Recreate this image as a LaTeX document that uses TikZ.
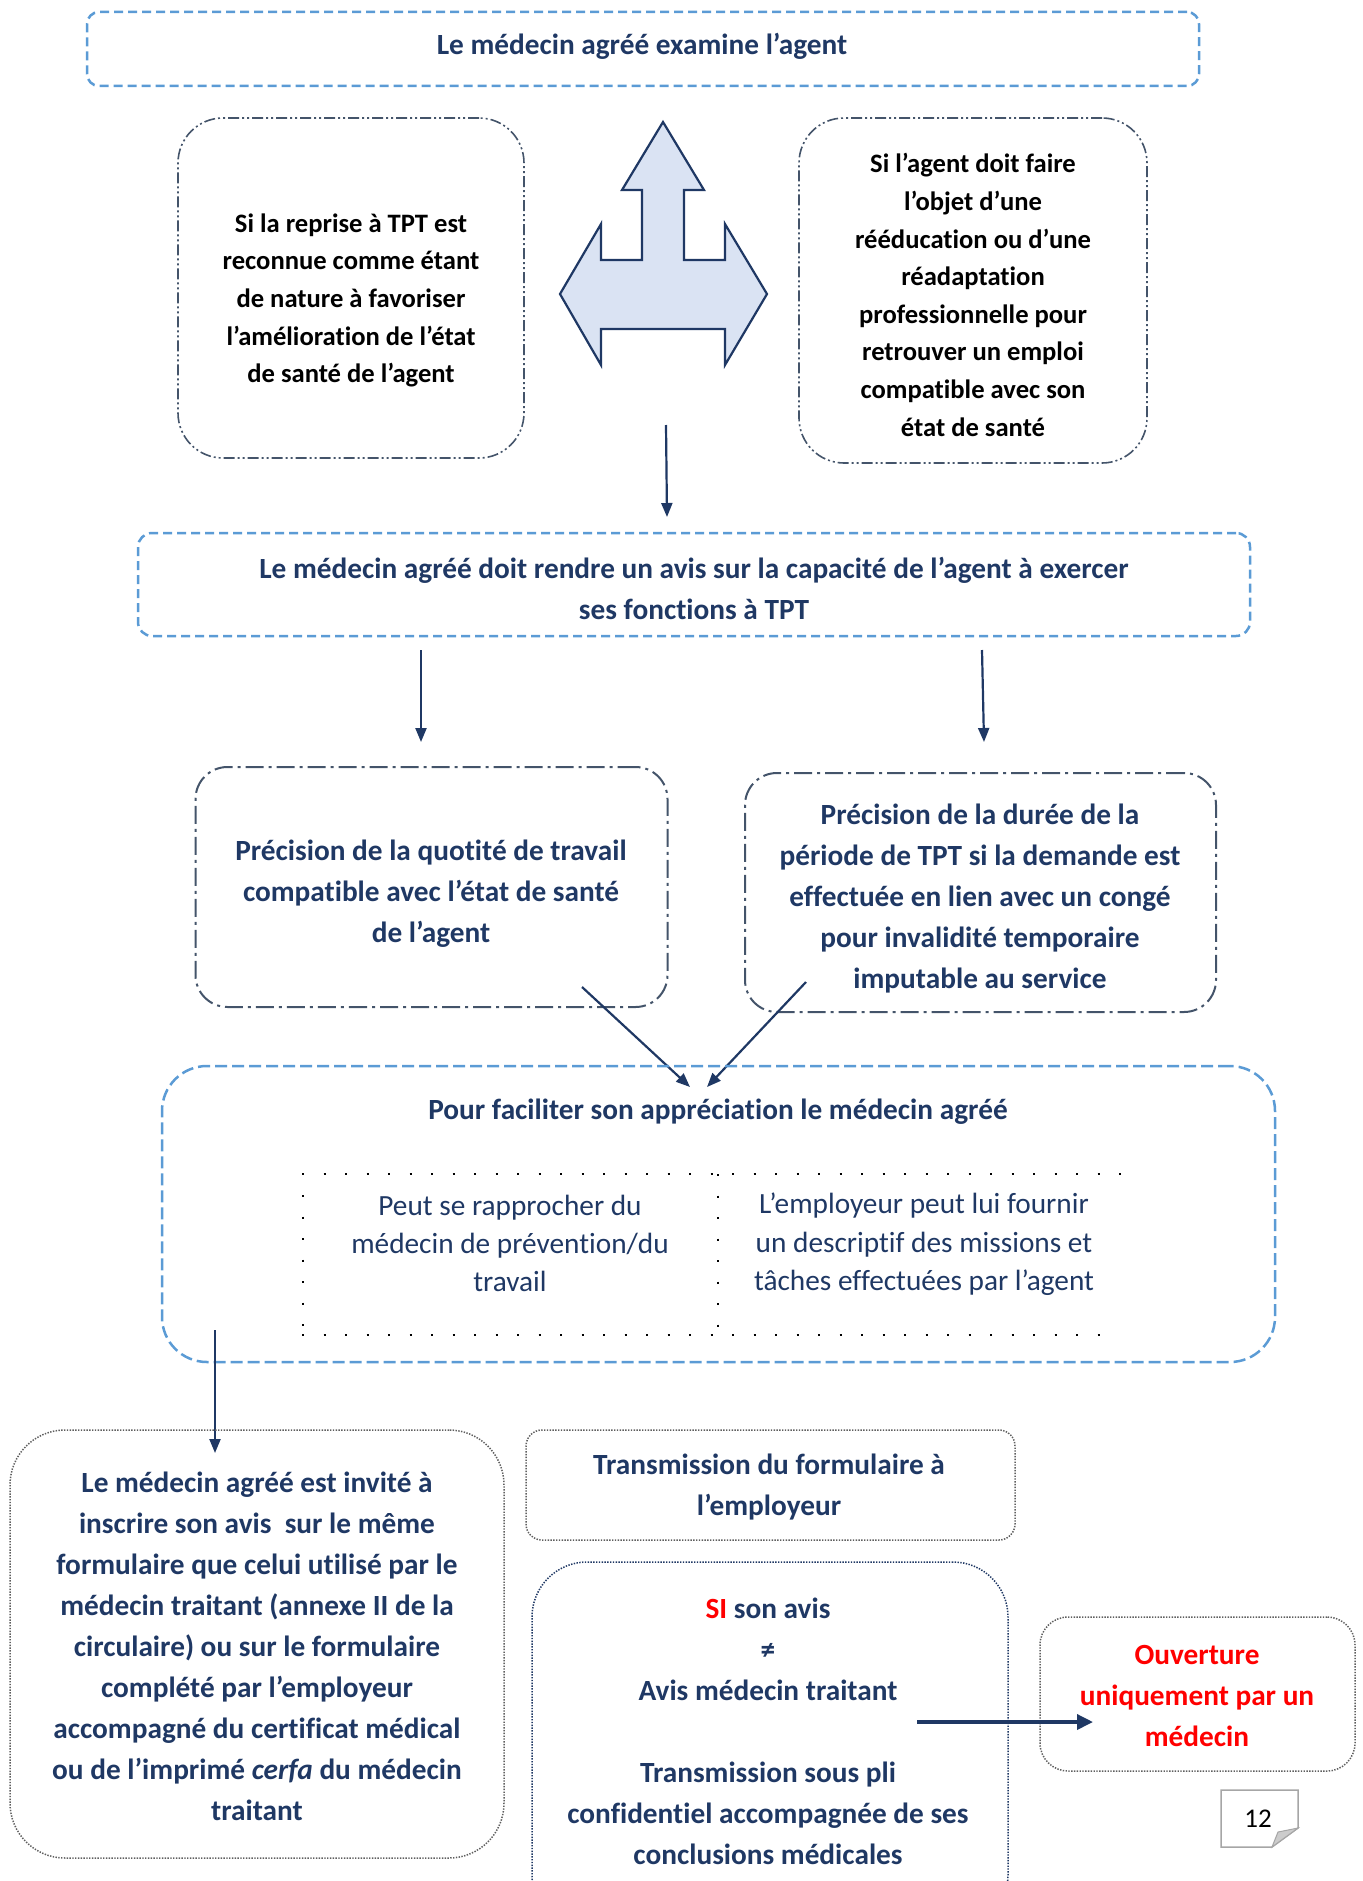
\documentclass[tikz,border=0pt]{standalone}
\usepackage{fontspec}
\setmainfont{Carlito}[Ligatures=CommonOff]
\usetikzlibrary{arrows.meta}

\definecolor{navy}{HTML}{1F3864}
\definecolor{accblue}{HTML}{5B9BD5}
\definecolor{slate}{HTML}{44546A}
\definecolor{shapefill}{HTML}{DAE3F3}
\definecolor{alert}{HTML}{FF0000}
\definecolor{softgray}{HTML}{5F5F5F}

\tikzset{
  frame/.style={draw, rectangle, inner sep=0pt, outer sep=0pt},
  bluedash/.style={frame, draw=accblue, line width=2.5pt, dash pattern=on 9pt off 5pt},
  dashdotdot/.style={frame, draw=slate, line width=1.6pt,
    dash pattern=on 11pt off 3pt on 2pt off 3pt on 2pt off 3pt, rounded corners=45pt},
  dashdotbox/.style={frame, draw=slate, line width=2pt,
    dash pattern=on 18pt off 5pt on 3pt off 5pt, rounded corners=32pt},
  finedot/.style={frame, draw=softgray, line width=1.5pt, dash pattern=on 1.4pt off 1.4pt},
  navydot/.style={frame, draw=navy, line width=1.5pt, dash pattern=on 1.4pt off 1.4pt},
  hdr/.style={font=\bfseries\fontsize{29.3}{41}\selectfont, text=navy, align=center, inner sep=0pt},
  sidetxt/.style={font=\bfseries\fontsize{26.6}{37.6}\selectfont, text=black, align=center, inner sep=0pt},
  celltxt/.style={font=\fontsize{29.3}{38.4}\selectfont, text=navy, align=center, inner sep=0pt},
  redtxt/.style={hdr, text=alert},
  link/.style={draw=navy, line width=2.2pt, -{Triangle[length=14pt,width=11pt]}},
  boldlink/.style={draw=navy, line width=3.5pt, -{Triangle[length=16pt,width=15pt]}},
  tablerule/.style={draw=black, line width=2.5pt, dash pattern=on 2pt off 19.5pt},
}

\begin{document}
\begin{tikzpicture}[x=1pt,y=-1pt]
\useasboundingbox (0,0) rectangle (1362,1881);

% first step
\node[bluedash, rounded corners=12pt, minimum width=1112pt, minimum height=74pt] (examine) at (643,49) {};
\node[hdr] (examinetxt) at (642,46.5) {Le médecin agréé examine l’agent};

% the two cases
\node[dashdotdot, minimum width=346pt, minimum height=340pt] (reprise) at (351,288) {};
\node[sidetxt] (reprisetxt) at (351,300.5) {Si la reprise à TPT est\\reconnue comme étant\\de nature à favoriser\\l’amélioration de l’état\\de santé de l’agent};
\node[dashdotdot, minimum width=348pt, minimum height=345pt] (reeduc) at (973,290.5) {};
\node[sidetxt] (reeductxt) at (973,295) {Si l’agent doit faire\\l’objet d’une\\rééducation ou d’une\\réadaptation\\professionnelle pour\\retrouver un emploi\\compatible avec son\\état de santé};

% three-way arrow between the cases
\draw[fill=shapefill, draw=navy, line width=2.2pt, line join=miter]
  (663,122) -- (704,190) -- (684,190) -- (684,260) -- (725,260) -- (725,224)
  -- (767,294) -- (725,365) -- (725,329) -- (601,329) -- (601,365) -- (560,294)
  -- (601,224) -- (601,260) -- (642,260) -- (642,190) -- (622,190) -- cycle;

\coordinate (s1) at (666,425);
\coordinate (e1) at (667,517);
\draw[link] (s1) -- (e1);

% opinion
\node[bluedash, rounded corners=14pt, minimum width=1112pt, minimum height=103pt] (avis) at (694,584.5) {};
\node[hdr] (avistxt) at (694,588.5) {Le médecin agréé doit rendre un avis sur la capacité de l’agent à exercer\\ses fonctions à TPT};

\coordinate (s2) at (421,650);
\coordinate (e2) at (421,742);
\coordinate (s3) at (982,650);
\coordinate (e3) at (984,742);
\draw[link] (s2) -- (e2);
\draw[link] (s3) -- (e3);

% details of the opinion
\node[dashdotbox, minimum width=472pt, minimum height=240pt] (quotite) at (431.5,887) {};
\node[hdr] (quotitetxt) at (431,893.5) {Précision de la quotité de travail\\compatible avec l’état de santé\\de l’agent};
\node[dashdotbox, minimum width=471pt, minimum height=239pt] (duree) at (980.5,892.5) {};
\node[hdr] (dureetxt) at (980,898.5) {Précision de la durée de la\\période de TPT si la demande est\\effectuée en lien avec un congé\\pour invalidité temporaire\\imputable au service};

\coordinate (s4) at (582,987);
\coordinate (e4) at (690,1087);
\coordinate (s5) at (806,982);
\coordinate (e5) at (707,1087);
\draw[link] (s4) -- (e4);
\draw[link] (s5) -- (e5);

% how the doctor forms the opinion
\node[bluedash, rounded corners=45pt, dash pattern=on 12pt off 5pt, minimum width=1113pt, minimum height=296pt] (faciliter) at (718.5,1214) {};
\node[hdr] (facilitertxt) at (718,1111.5) {Pour faciliter son appréciation le médecin agréé};

\draw[tablerule] (302,1174) -- (1129,1174);
\draw[tablerule] (302,1335) -- (1118,1335);
\draw[tablerule] (303,1195) -- (303,1330);
\draw[tablerule] (718,1174) -- (718,1335);
\node[celltxt] (prevention) at (510,1243.5) {Peut se rapprocher du\\médecin de prévention/du\\travail};
\node[celltxt] (employeur) at (924,1244.5) {L’employeur peut lui fournir\\un descriptif des missions et\\tâches effectuées par l’agent};

\coordinate (s6) at (215,1330);
\coordinate (e6) at (215,1453);
\draw[link] (s6) -- (e6);

% form and transmission
\node[finedot, rounded corners=55pt, minimum width=494pt, minimum height=428pt] (formulaire) at (257,1644) {};
\node[hdr] (formulairetxt) at (257,1646.5) {Le médecin agréé est invité à\\inscrire son avis\ \ sur le même\\formulaire que celui utilisé par le\\médecin traitant (annexe II de la\\circulaire) ou sur le formulaire\\complété par l’employeur\\accompagné du certificat médical\\ou de l’imprimé \textit{cerfa} du médecin\\traitant};

\node[finedot, rounded corners=16pt, minimum width=489pt, minimum height=110pt] (transmission) at (770.5,1485) {};
\node[hdr] (transmissiontxt) at (769,1487) {Transmission du formulaire à\\l’employeur};

\node[navydot, rounded corners=55pt, minimum width=476pt, minimum height=368pt] (divergence) at (770,1746) {};
\node[hdr] (divergencetxt) at (768,1731) {\textcolor{alert}{SI} son avis\\≠\\Avis médecin traitant\\[41pt]Transmission sous pli\\confidentiel accompagnée de ses\\conclusions médicales};

\node[finedot, rounded corners=28pt, minimum width=315pt, minimum height=154pt] (ouverture) at (1197.5,1694) {};
\node[redtxt] (ouverturetxt) at (1197,1695.5) {Ouverture\\uniquement par un\\médecin};

\coordinate (s7) at (917,1722);
\coordinate (e7) at (1093,1722);
\draw[boldlink] (s7) -- (e7);

% page number with folded corner
\draw[draw=gray!70, line width=1.5pt, fill=white, line join=miter]
  (1221,1790) -- (1298,1790) -- (1298,1828) -- (1272,1847) -- (1221,1847) -- cycle;
\draw[draw=gray!70, fill=gray!40, line width=1pt] (1298,1828) -- (1272,1847) -- (1278,1832) -- cycle;
\node[font=\fontsize{27}{32}\selectfont, text=black, inner sep=0pt] (pagenum) at (1258,1819) {12};
\end{tikzpicture}
\end{document}
